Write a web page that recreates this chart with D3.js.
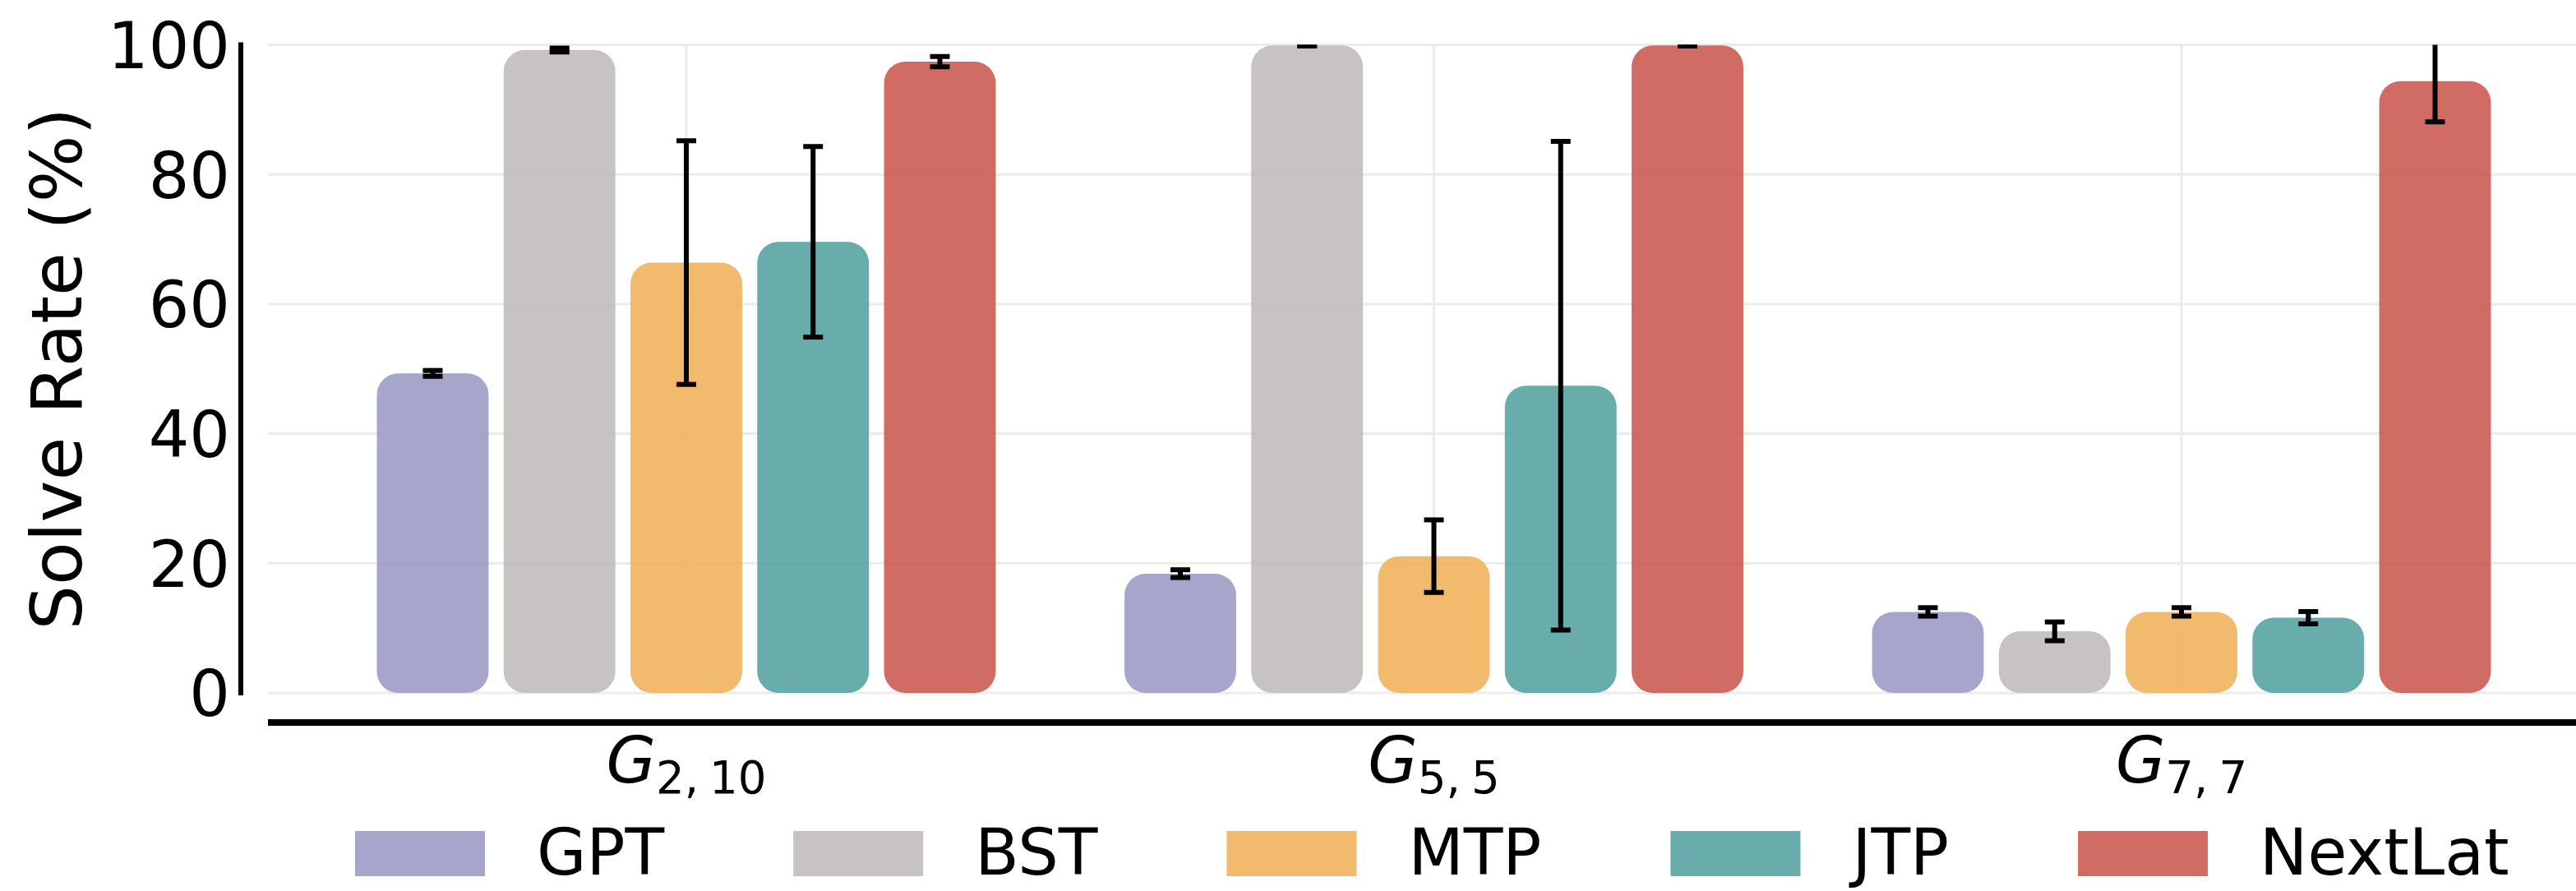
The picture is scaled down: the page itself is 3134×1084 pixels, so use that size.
<!DOCTYPE html>
<html>
<head>
<meta charset="utf-8">
<script src="https://cdn.jsdelivr.net/npm/d3@7"></script>
<style>
  html, body { margin: 0; padding: 0; background: #ffffff; }
  svg { display: block; font-family: "DejaVu Sans", sans-serif; }
</style>
</head>
<body>
<svg id="chart" width="3134" height="1084"></svg>
<script>
// Solve rate per graph family and method (mean ± error)
const groups = ["G_2,10", "G_5,5", "G_7,7"];
const groupMain = ["G", "G", "G"];
const groupSub = [["2,", "10"], ["5,", "5"], ["7,", "7"]];
const methods = ["GPT", "BST", "MTP", "JTP", "NextLat"];
const colors = ["#9c9bc7", "#c2bcbc", "#f1b35c", "#58a3a2", "#cb5c52"];

const gptMean = [49.3, 18.4, 12.5];
const gptErr = [0.45, 0.6, 0.65];
const bstMean = [99.2, 99.9, 9.5];
const bstErr = [0.3, 0.1, 1.45];
const mtpMean = [66.4, 21.1, 12.5];
const mtpErr = [18.8, 5.6, 0.65];
const jtpMean = [69.6, 47.4, 11.6];
const jtpErr = [14.7, 37.7, 0.95];
const nextLatMean = [97.4, 99.9, 94.4];
const nextLatErr = [0.8, 0.1, 6.3];

const yTicks = [0, 20, 40, 60, 80, 100];

const means = [gptMean, bstMean, mtpMean, jtpMean, nextLatMean];
const errs = [gptErr, bstErr, mtpErr, jtpErr, nextLatErr];

const rows = [];
groups.forEach((g, gi) => {
  methods.forEach((m, mi) => {
    rows.push({ group: g, method: m, mean: means[mi][gi], err: errs[mi][gi], color: colors[mi] });
  });
});

const svg = d3.select("#chart");

// plot area
const plotLeft = 326, plotRight = 3163, plotTop = 54.5, plotBottom = 843;

const y = d3.scaleLinear().domain([0, 100]).range([plotBottom, plotTop]);
const x0 = d3.scaleBand().domain(groups).range([plotLeft, plotRight])
  .paddingInner(0.152).paddingOuter(0.1356);
const x1 = d3.scaleBand().domain(methods).range([0, x0.bandwidth()])
  .paddingInner(0.119).paddingOuter(0.0595);

svg.append("defs").append("clipPath").attr("id", "plotClip")
  .append("rect")
  .attr("x", plotLeft).attr("y", plotTop)
  .attr("width", 3134 - plotLeft).attr("height", plotBottom - plotTop);

// grid
const grid = svg.append("g").attr("stroke", "#ebebeb").attr("stroke-width", 3);
grid.selectAll("line.h").data(yTicks).join("line")
  .attr("class", "h")
  .attr("x1", plotLeft).attr("x2", 3134)
  .attr("y1", d => y(d)).attr("y2", d => y(d));
grid.selectAll("line.v").data(groups).join("line")
  .attr("class", "v")
  .attr("x1", d => x0(d) + x0.bandwidth() / 2).attr("x2", d => x0(d) + x0.bandwidth() / 2)
  .attr("y1", y(0)).attr("y2", y(100));

// bars
const plot = svg.append("g").attr("clip-path", "url(#plotClip)");
plot.selectAll("rect.bar").data(rows).join("rect")
  .attr("class", "bar")
  .attr("x", d => x0(d.group) + x1(d.method))
  .attr("width", x1.bandwidth())
  .attr("y", d => y(d.mean))
  .attr("height", d => y(0) - y(d.mean))
  .attr("rx", 26).attr("ry", 26)
  .attr("fill", d => d.color)
  .attr("fill-opacity", 0.9);

// error bars
const capHalf = 12;
const eb = plot.append("g").attr("stroke", "#000").attr("stroke-width", 6);
const cx = d => x0(d.group) + x1(d.method) + x1.bandwidth() / 2;
eb.selectAll("line.stem").data(rows).join("line")
  .attr("class", "stem")
  .attr("x1", cx).attr("x2", cx)
  .attr("y1", d => y(d.mean - d.err)).attr("y2", d => y(d.mean + d.err));
eb.selectAll("line.capTop").data(rows).join("line")
  .attr("class", "capTop")
  .attr("x1", d => cx(d) - capHalf).attr("x2", d => cx(d) + capHalf)
  .attr("y1", d => y(d.mean + d.err)).attr("y2", d => y(d.mean + d.err));
eb.selectAll("line.capBot").data(rows).join("line")
  .attr("class", "capBot")
  .attr("x1", d => cx(d) - capHalf).attr("x2", d => cx(d) + capHalf)
  .attr("y1", d => y(d.mean - d.err)).attr("y2", d => y(d.mean - d.err));

// left spine (offset) and tick labels
svg.append("line")
  .attr("x1", 293).attr("x2", 293)
  .attr("y1", y(0)).attr("y2", y(100))
  .attr("stroke", "#000").attr("stroke-width", 6).attr("stroke-linecap", "square");

svg.append("g").selectAll("text").data(yTicks).join("text")
  .attr("x", 280).attr("y", d => y(d)).attr("dy", "0.365em")
  .attr("text-anchor", "end")
  .attr("font-size", 78).attr("fill", "#000")
  .text(d => d);

svg.append("text")
  .attr("transform", `translate(99, ${(y(0) + y(100)) / 2}) rotate(-90)`)
  .attr("text-anchor", "middle")
  .attr("font-size", 86).attr("fill", "#000")
  .text("Solve Rate (%)");

// bottom spine (offset)
svg.append("line")
  .attr("x1", plotLeft).attr("x2", 3134)
  .attr("y1", 879).attr("y2", 879)
  .attr("stroke", "#000").attr("stroke-width", 8);

// category labels: G with subscripts
const xl = svg.append("g").selectAll("text").data(groups).join("text")
  .attr("x", d => x0(d) + x0.bandwidth() / 2)
  .attr("y", 952)
  .attr("text-anchor", "middle")
  .attr("font-size", 78).attr("fill", "#000");
xl.append("tspan").attr("font-style", "italic").text((d, i) => groupMain[i]);
xl.append("tspan").attr("font-size", 54.6).attr("dy", 13).text((d, i) => groupSub[i][0]);
xl.append("tspan").attr("font-size", 54.6).attr("dx", 13).text((d, i) => groupSub[i][1]);

// legend
const legend = svg.append("g");
const patchW = 158, patchH = 55, textPad = 63, colSpacing = 157;
let lx = 432;
methods.forEach((m, i) => {
  legend.append("rect")
    .attr("x", lx).attr("y", 1011)
    .attr("width", patchW).attr("height", patchH)
    .attr("fill", colors[i]).attr("fill-opacity", 0.9);
  const t = legend.append("text")
    .attr("x", lx + patchW + textPad).attr("y", 1064)
    .attr("font-size", 78).attr("fill", "#000")
    .text(m);
  lx += patchW + textPad + t.node().getComputedTextLength() + colSpacing;
});
</script>
</body>
</html>
